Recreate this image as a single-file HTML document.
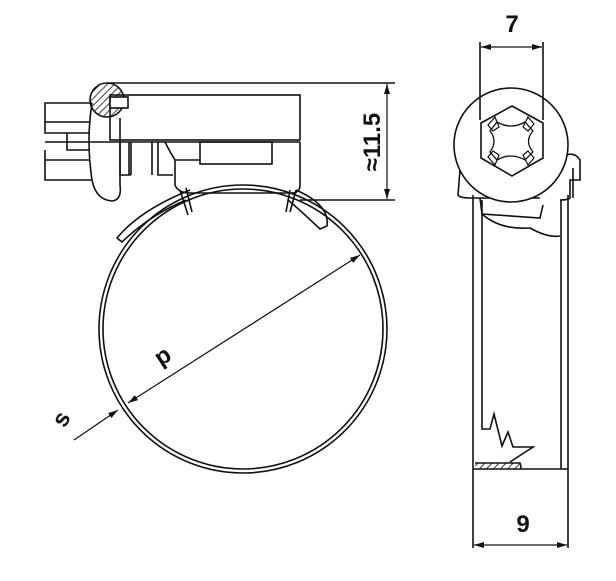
<!DOCTYPE html>
<html><head><meta charset="utf-8"><style>
html,body{margin:0;padding:0;background:#fff;width:616px;height:581px;overflow:hidden}
svg{display:block}
text{font-family:"Liberation Sans",sans-serif;font-weight:bold;fill:#111}
</style></head><body>
<svg width="616" height="581" viewBox="0 0 616 581" xmlns="http://www.w3.org/2000/svg">
<defs>
<pattern id="h" patternUnits="userSpaceOnUse" width="5" height="5" patternTransform="rotate(45)">
<line x1="0" y1="0" x2="0" y2="5" stroke="#111" stroke-width="1.6"/></pattern>
<marker id="a" viewBox="0 0 10 6" refX="10" refY="3" markerWidth="10" markerHeight="6" orient="auto-start-reverse" markerUnits="userSpaceOnUse">
<path d="M0,0 L10,3 L0,6z" fill="#111"/></marker>
</defs>
<g fill="none" stroke="#111" stroke-width="1.6">
<circle cx="243" cy="329" r="144"/>
<circle cx="243" cy="329" r="140"/>
<path d="M190,190 Q140,210 117,238 L122,242 Q150,215 186,200"/>
<path d="M296,190 Q330,205 327,226 L320,229 Q300,210 288,200"/>
<line x1="107" y1="83" x2="395" y2="83"/>
<rect x="110" y="95" width="190" height="45"/>
<line x1="45" y1="142" x2="300" y2="142"/>
<path d="M92,103 H45 V122 H90 M90,133 H67 V150 H90 M90,160 H45 V180 H92 M45,122 V133 H67 M45,150 V160"/>
<path d="M92,103 Q86,140 92,180 Q96,200 112,201 Q122,200 120,185 V118"/>
<circle cx="107" cy="100" r="17" fill="url(#h)"/>
<rect x="110" y="97" width="18" height="11" fill="#fff"/>
<path d="M120,142 V175 M129,142 V175 M131,142 V175 M152,142 V175 M158,142 V175 H173 M120,175 H131"/>
<path d="M165,142 Q170,152 175,160 V185 Q178,193 190,193 H292 Q300,193 300,185 V142"/>
<rect x="200" y="142" width="72" height="22"/>
<line x1="175" y1="160" x2="200" y2="160"/>
<path d="M180,190 L188,215 M186,188 L192,212 M296,190 L290,212 M290,190 L286,212"/>
<line x1="300" y1="200" x2="395" y2="200"/>
<line x1="387" y1="84" x2="387" y2="199" marker-start="url(#a)" marker-end="url(#a)" stroke-width="1.2"/>
<line x1="128" y1="403" x2="360" y2="255" marker-start="url(#a)" marker-end="url(#a)" stroke-width="1.2"/>
<line x1="74" y1="440" x2="118" y2="410" marker-end="url(#a)" stroke-width="1.2"/>
<line x1="473" y1="195" x2="473" y2="548"/>
<line x1="568" y1="195" x2="568" y2="548"/>
<path d="M482,200 V429 H490 L494,414 L502,446 L508,432 L513,447 L533,447 L510,462"/>
<line x1="561" y1="200" x2="561" y2="469"/>
<line x1="473" y1="469" x2="568" y2="469"/>
<rect x="475" y="463" width="45" height="6" fill="url(#h)" stroke="none"/>
<path d="M475,463 H520 Q522,469 520,469"/>
<path d="M460,170 L458,195 Q460,198 470,198 L540,198 M566,155 Q575,152 580,160 V180 H570 V198 Q568,200 560,200"/>
<path d="M480,198 L482,214 L540,218 L543,205 M482,214 Q500,230 530,228 Q548,238 560,236"/>
<line x1="573" y1="168" x2="573" y2="198"/>
<circle cx="511" cy="145" r="57" fill="#fff"/>
<polygon points="512,106 543,123 543,158 512,176 481,158 481,123"/>
<path d="M497,122 Q511,130 525,122 L533,131 Q524,141 533,152 L525,160 Q511,152 497,160 L490,152 Q498,141 490,131 Z" stroke-width="1.3"/>
<path d="M495,117 L499,127 L493,131 L488,125 Z M528,117 L534,124 L528,131 L523,127 Z M493,151 L499,155 L495,165 L488,157 Z M528,151 L534,158 L528,165 L523,155 Z" stroke-width="1.2"/>
<line x1="480" y1="42" x2="480" y2="120"/>
<line x1="543" y1="42" x2="543" y2="120"/>
<line x1="481" y1="47" x2="542" y2="47" marker-start="url(#a)" marker-end="url(#a)" stroke-width="1.2"/>
<line x1="474" y1="545" x2="567" y2="545" marker-start="url(#a)" marker-end="url(#a)" stroke-width="1.2"/>
</g>
<text x="512" y="32" font-size="24" text-anchor="middle">7</text>
<text x="523" y="532" font-size="24" text-anchor="middle">9</text>
<text transform="translate(380,142) rotate(-90)" font-size="24" text-anchor="middle">≈11.5</text>
<text transform="translate(160,352) rotate(147)" font-size="24" text-anchor="middle">d</text>
<text transform="translate(68,423) rotate(-60)" font-size="24" text-anchor="middle">s</text>
</svg>
</body></html>
